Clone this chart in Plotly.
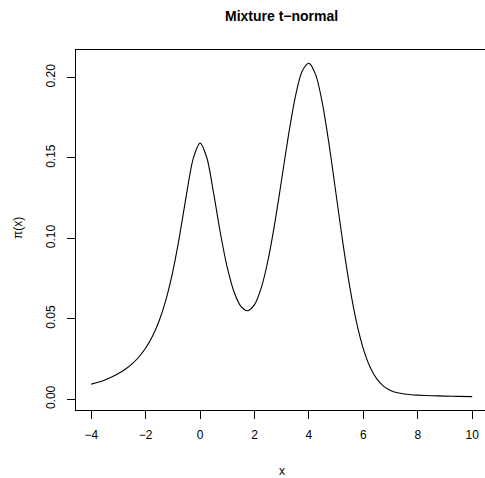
import plotly.graph_objects as go

# Values of the curve (x grid and density values)
x_vals = [-4, -3.75, -3.5, -3.25, -3, -2.75, -2.5, -2.25, -2, -1.75, -1.5, -1.25,
          -1, -0.75, -0.5, -0.25, 0, 0.25, 0.5, 0.75, 1, 1.25, 1.5, 1.75,
          2, 2.25, 2.5, 2.75, 3, 3.25, 3.5, 3.75, 4, 4.25, 4.5, 4.75,
          5, 5.25, 5.5, 5.75, 6, 6.25, 6.5, 6.75, 7, 7.25, 7.5, 7.75,
          8, 8.5, 9, 9.5, 10]
y_vals = [0.00936, 0.01057, 0.01201, 0.01377, 0.01592, 0.01859, 0.02195, 0.02625,
          0.03183, 0.03918, 0.04897, 0.06211, 0.07958, 0.10186, 0.12732, 0.14979,
          0.15922, 0.14997, 0.12776, 0.10287, 0.08179, 0.06666, 0.05774, 0.05505,
          0.05883, 0.06939, 0.08671, 0.10991, 0.13690, 0.16433, 0.18805, 0.20390,
          0.20883, 0.20168, 0.18352, 0.15732, 0.12711, 0.09690, 0.06985, 0.04781,
          0.03130, 0.01984, 0.01244, 0.00797, 0.00540, 0.00399, 0.00322, 0.00278,
          0.00252, 0.00218, 0.00194, 0.00174, 0.00158]

x_ticks = [-4, -2, 0, 2, 4, 6, 8, 10]
y_ticks = [0.00, 0.05, 0.10, 0.15, 0.20]
y_tick_labels = ["0.00", "0.05", "0.10", "0.15", "0.20"]

FONT = "Liberation Sans, Arial, Helvetica, sans-serif"

W, H = 485, 478
L, T, B = 76, 50, 68
pw = W - L
ph = H - T - B


def px_x(fx):
    return (fx - L) / pw


def px_y(fy):
    return 1 - (fy - T) / ph


fig = go.Figure()
fig.add_trace(go.Scatter(
    x=x_vals, y=y_vals, mode="lines",
    line=dict(color="black", width=1.1, shape="spline", smoothing=0.8),
    showlegend=False, hoverinfo="skip",
))

fig.update_layout(
    width=W, height=H,
    margin=dict(l=L, r=0, t=T, b=B, pad=0),
    paper_bgcolor="white", plot_bgcolor="white",
    font=dict(family=FONT, size=12, color="black"),
    xaxis=dict(
        range=[-4.56, 10.47], tickvals=x_ticks, ticks="outside", ticklen=8,
        tickwidth=1, tickcolor="black", showline=True, mirror=True,
        linecolor="black", linewidth=1, showgrid=False, zeroline=False,
        tickfont=dict(family=FONT, size=12, color="black"),
        ticklabelstandoff=6,
    ),
    yaxis=dict(
        range=[-0.00671, 0.21712], tickvals=y_ticks, ticktext=y_tick_labels,
        ticks="outside", ticklen=8, tickwidth=1, tickcolor="black",
        showline=True, mirror=False, linecolor="black", linewidth=1,
        showgrid=False, zeroline=False, tickangle=-90,
        tickfont=dict(family=FONT, size=12, color="black"),
        ticklabelstandoff=7,
    ),
    annotations=[
        dict(text="<b>Mixture t\u2212normal</b>", x=px_x(281.5), y=px_y(16),
             xref="paper", yref="paper", xanchor="center", yanchor="middle",
             showarrow=False, font=dict(family=FONT, size=14, color="black")),
        dict(text="x", x=px_x(282), y=px_y(471),
             xref="paper", yref="paper", xanchor="center", yanchor="middle",
             showarrow=False, font=dict(family=FONT, size=12, color="black")),
        dict(text="\u03c0(x)", x=px_x(18), y=px_y(228),
             xref="paper", yref="paper", xanchor="center", yanchor="middle",
             textangle=-90, showarrow=False,
             font=dict(family=FONT, size=12, color="black")),
    ],
)

fig.write_html(
    "out.html",
    config={"displayModeBar": False},
    post_script="document.body.style.margin='0';document.body.style.padding='0';",
)
